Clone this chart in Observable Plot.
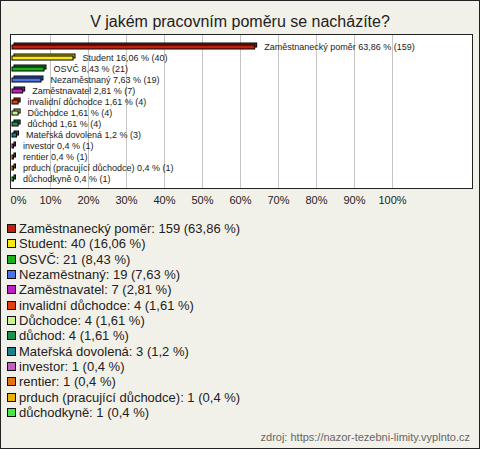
<!DOCTYPE html>
<html>
<head>
<meta charset="utf-8">
<script src="https://cdn.jsdelivr.net/npm/d3@7"></script>
<script src="https://cdn.jsdelivr.net/npm/@observablehq/plot@0.6"></script>
<style>
  html, body { margin: 0; padding: 0; background: #fff; }
  #wrap { position: relative; width: 480px; height: 449px; background: #f2f1e9; overflow: hidden; font-family: "Liberation Sans", Arial, sans-serif; }
  #border { position: absolute; left: 0; top: 0; width: 480px; height: 449px; box-sizing: border-box; border: 1px solid #222; pointer-events: none; }
  #title { position: absolute; left: 0; width: 480px; top: 11px; text-align: center; font-size: 16px; color: #222; line-height: 22px; }
  #chart { position: absolute; left: 0; top: 28px; }
  #legend { position: absolute; left: 7px; top: 221px; }
  .li { height: 15.33px; display: flex; align-items: center; font-size: 13px; color: #222; white-space: nowrap; }
  .sw { width: 7px; height: 7px; border: 1px solid #111; margin-right: 3px; flex: none; }
  #foot { position: absolute; right: 10px; top: 429px; font-size: 11px; color: #666; line-height: 16px; }
</style>
</head>
<body>
<div id="wrap">
  <div id="title">V jakém pracovním poměru se nacházíte?</div>
  <div id="chart"></div>
  <div id="legend"></div>
  <div id="foot">zdroj: https://nazor-tezebni-limity.vyplnto.cz</div>
  <div id="border"></div>
</div>
<script>
const categories = ["Zaměstnanecký poměr", "Student", "OSVČ", "Nezaměstnaný", "Zaměstnavatel", "invalidní důchodce", "Důchodce", "důchod", "Mateřská dovolená", "investor", "rentier", "prduch (pracující důchodce)", "důchodkyně"];
const counts = [159, 40, 21, 19, 7, 4, 4, 4, 3, 1, 1, 1, 1];
const percents = [63.86, 16.06, 8.43, 7.63, 2.81, 1.61, 1.61, 1.61, 1.2, 0.4, 0.4, 0.4, 0.4];
const colors = ["#c0200e", "#f7e816", "#1cb01c", "#4a74e8", "#bb22c4", "#e2400e", "#ccf28a", "#1c9150", "#1f7f8e", "#c25ec4", "#e37412", "#e8b20a", "#48e848"];
const tickValues = [0, 10, 20, 30, 40, 50, 60, 70, 80, 90, 100];

const fmt = v => String(v).replace(".", ",");
const data = categories.map((c, i) => ({
  cat: c, count: counts[i], pct: percents[i], color: colors[i],
  dark: d3.color(colors[i]).darker(0.6).formatHex()
}));

const chart = Plot.plot({
  width: 480,
  height: 190,
  marginLeft: 10,
  marginRight: 8,
  marginTop: 6,
  marginBottom: 30,
  style: { background: "transparent", fontFamily: "'Liberation Sans', Arial, sans-serif" },
  x: { domain: [0, 100], range: [12, 392], axis: null },
  y: { domain: categories, range: [7.7, 162.1], padding: 0, axis: null },
  marks: [
    Plot.frame({ fill: "white", stroke: null }),
    Plot.ruleX(tickValues.filter(t => t > 0), { stroke: "#c4c4c4", strokeWidth: 1 }),
    Plot.rectX(data, { x1: 0, x2: "pct", y: "cat", fill: "dark", stroke: "#000", strokeWidth: 1, insetTop: 3.5, insetBottom: 3.5, dx: 2, dy: -1.5 }),
    Plot.rectX(data, { x1: 0, x2: "pct", y: "cat", fill: "color", stroke: "#000", strokeWidth: 1, insetTop: 3.5, insetBottom: 3.5, dy: 0.5 }),
    Plot.text(data, { x: "pct", y: "cat", text: d => `${d.cat} ${fmt(d.pct)} % (${d.count})`, textAnchor: "start", dx: 9, fontSize: 9, fill: "#222" }),
    Plot.frame({ stroke: "#222", fill: null }),
    Plot.text(tickValues.filter(t => t > 0), { x: d => d, text: d => d + "%", frameAnchor: "bottom", dy: 15, fontSize: 11, fill: "#222" }),
    Plot.text([0], { x: d => d, text: d => d + "%", frameAnchor: "bottom", dy: 15, dx: 6, fontSize: 11, fill: "#222" })
  ]
});
document.getElementById("chart").appendChild(chart);

const legend = document.getElementById("legend");
data.forEach(d => {
  const row = document.createElement("div");
  row.className = "li";
  const sw = document.createElement("span");
  sw.className = "sw";
  sw.style.background = d.color;
  const t = document.createElement("span");
  t.textContent = `${d.cat}: ${d.count} (${fmt(d.pct)} %)`;
  row.appendChild(sw); row.appendChild(t);
  legend.appendChild(row);
});
</script>
</body>
</html>
